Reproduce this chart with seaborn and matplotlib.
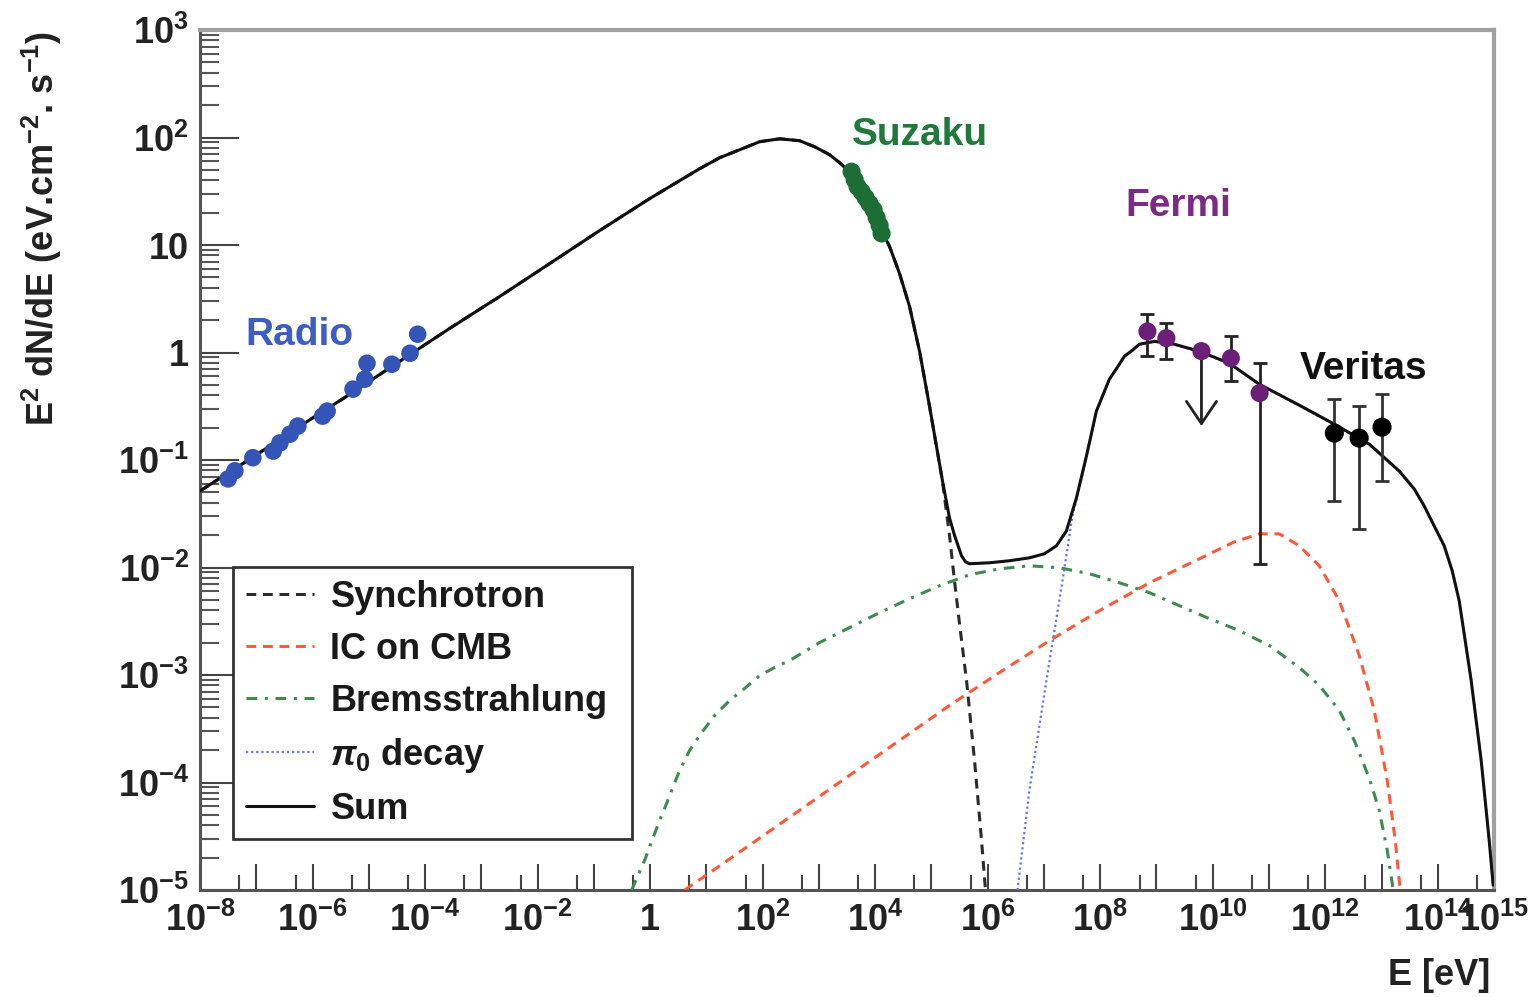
import numpy as np
import matplotlib
matplotlib.use("Agg")
import matplotlib.pyplot as plt
import seaborn as sns
from matplotlib.ticker import FixedLocator, FixedFormatter, LogLocator, NullFormatter

# ---------------- model curves (log10 E [eV], log10 E^2 dN/dE) ----------------
sum_logE = [-8.00, -7.112, -6.224, -5.336, -4.448, -3.560, -2.671, -1.783, -0.895, -0.007,
            0.881, 1.236, 1.591, 1.947, 2.302, 2.657, 2.924, 3.190, 3.368, 3.545, 3.812, 3.936,
            4.078, 4.256, 4.433, 4.611, 4.789, 4.966, 5.197, 5.321, 5.410, 5.535, 5.606, 5.677,
            6.032, 6.387, 6.742, 7.009, 7.222, 7.400, 7.577, 7.755, 7.932, 8.163, 8.305, 8.430,
            8.572, 8.696, 8.963, 9.318, 9.762, 10.295, 10.828, 11.538, 12.160, 12.782, 13.314,
            13.581, 13.758, 13.936, 14.114, 14.256, 14.380, 14.487, 14.593, 14.771, 14.913, 14.984]
sum_logF = [-1.288, -0.991, -0.685, -0.388, -0.081, 0.225, 0.522, 0.828, 1.135, 1.432,
            1.710, 1.812, 1.886, 1.961, 1.988, 1.970, 1.914, 1.840, 1.766, 1.682, 1.497, 1.348,
            1.172, 0.986, 0.735, 0.429, 0.012, -0.499, -1.195, -1.538, -1.700, -1.891, -1.947, -1.965,
            -1.956, -1.937, -1.910, -1.872, -1.798, -1.659, -1.353, -0.963, -0.545, -0.248, -0.137, -0.035,
            0.021, 0.077, 0.104, 0.077, 0.012, -0.100, -0.295, -0.490, -0.666, -0.852, -1.102,
            -1.269, -1.427, -1.613, -1.798, -2.030, -2.309, -2.680, -3.051, -3.794, -4.536, -4.954]

sync_logE = [-8.00, -7.112, -6.224, -5.336, -4.448, -3.560, -2.671, -1.783, -0.895, -0.007,
             0.881, 1.236, 1.591, 1.947, 2.302, 2.657, 2.924, 3.190, 3.368, 3.545, 3.812, 3.936,
             4.078, 4.256, 4.433, 4.611, 4.789, 4.966, 5.197, 5.321, 5.410, 5.499, 5.624, 5.766,
             5.890, 5.961]
sync_logF = [-1.288, -0.991, -0.685, -0.388, -0.081, 0.225, 0.522, 0.828, 1.135, 1.432,
             1.710, 1.812, 1.886, 1.961, 1.988, 1.970, 1.914, 1.840, 1.766, 1.682, 1.497, 1.348,
             1.172, 0.986, 0.735, 0.429, 0.012, -0.499, -1.200, -1.700, -2.123, -2.522, -3.051,
             -3.794, -4.536, -5.0]

ic_logE = [0.615, 1.769, 2.657, 3.545, 4.433, 5.321, 6.210, 7.098, 7.986, 8.874, 9.762,
           10.384, 10.828, 11.183, 11.538, 11.893, 12.249, 12.604, 12.870, 13.101, 13.243, 13.332]
ic_logF = [-5.0, -4.582, -4.258, -3.933, -3.608, -3.283, -2.977, -2.680, -2.401, -2.142, -1.919,
           -1.761, -1.687, -1.687, -1.798, -1.984, -2.309, -2.819, -3.329, -3.979, -4.536, -5.0]

brems_logE = [-0.327, -0.096, 0.170, 0.259, 0.526, 0.703, 0.881, 1.147, 1.414, 1.680, 1.947,
              2.213, 2.480, 3.012, 3.545, 4.078, 4.611, 5.144, 5.677, 6.210, 6.742, 7.275, 7.808,
              8.341, 8.874, 9.407, 9.940, 10.472, 11.005, 11.538, 11.893, 12.249, 12.515, 12.782,
              12.959, 13.101, 13.208]
brems_logF = [-5.0, -4.722, -4.350, -4.239, -3.886, -3.701, -3.561, -3.376, -3.237, -3.125, -3.005,
              -2.930, -2.865, -2.698, -2.559, -2.420, -2.290, -2.169, -2.067, -2.012, -1.984, -2.002,
              -2.058, -2.142, -2.234, -2.355, -2.476, -2.587, -2.726, -2.930, -3.097, -3.329, -3.608,
              -3.961, -4.258, -4.629, -5.0]

pi0_logE = [6.529, 6.742, 7.044, 7.329, 7.506, 7.666, 7.755, 7.932, 8.163, 8.305, 8.430, 8.572,
            8.696, 8.963, 9.318, 9.762, 10.295, 10.828, 11.538, 12.160, 12.782, 13.314, 13.581,
            13.758, 13.936, 14.114, 14.256, 14.380, 14.487, 14.593, 14.771, 14.913, 14.984]
pi0_logF = [-5.0, -4.072, -3.051, -2.123, -1.520, -1.176, -0.975, -0.550, -0.252, -0.140, -0.040,
            0.017, 0.072, 0.100, 0.073, 0.008, -0.105, -0.300, -0.495, -0.672, -0.858, -1.108,
            -1.275, -1.433, -1.619, -1.805, -2.036, -2.315, -2.686, -3.057, -3.800, -4.542, -4.960]

# ---------------- measurements ----------------
radio_E = [3.16e-8, 4.17e-8, 8.7e-8, 2.0e-7, 2.63e-7, 3.98e-7, 5.5e-7, 1.51e-6, 1.82e-6,
           5.25e-6, 8.5e-6, 9.3e-6, 2.57e-5, 5.4e-5, 7.4e-5]
radio_F = [0.0667, 0.0794, 0.105, 0.121, 0.144, 0.174, 0.207, 0.256, 0.285,
           0.456, 0.565, 0.794, 0.778, 0.984, 1.48]

suzaku_E = [3.81e3, 4.31e3, 4.86e3, 5.73e3, 6.75e3, 7.94e3, 9.37e3, 1.06e4, 1.20e4, 1.30e4]
suzaku_F = [48.1, 40.6, 34.9, 31.4, 27.6, 24.3, 21.3, 18.0, 15.2, 12.8]

fermi_E = [6.9e8, 1.5e9, 2.1e10, 6.8e10]
fermi_F = [1.57, 1.36, 0.885, 0.419]
fermi_lo = [0.92, 0.865, 0.54, 0.0108]
fermi_hi = [2.26, 1.87, 1.42, 0.794]
fermi_ul_E = [6.3e9]
fermi_ul_F = [1.03]
fermi_ul_to = [0.207]

veritas_E = [1.45e12, 4.0e12, 1.02e13]
veritas_F = [0.178, 0.160, 0.202]
veritas_lo = [0.0417, 0.0229, 0.0638]
veritas_hi = [0.368, 0.317, 0.410]

xtick_exp = list(range(-8, 16))
xlabel_exp = [-8, -6, -4, -2, 0, 2, 4, 6, 8, 10, 12, 14, 15]
ytick_exp = list(range(-5, 4))

# ---------------- style ----------------
sns.set_theme(style="white")
plt.rcParams['font.family'] = ['Liberation Sans', 'DejaVu Sans']
plt.rcParams['font.weight'] = 'bold'
plt.rcParams['mathtext.fontset'] = 'custom'
plt.rcParams['mathtext.rm'] = 'Liberation Sans:bold'
plt.rcParams['mathtext.it'] = 'Liberation Sans:bold:italic'
plt.rcParams['mathtext.bf'] = 'Liberation Sans:bold'
plt.rcParams['mathtext.sf'] = 'Liberation Sans:bold'

FS = 26
fig = plt.figure(figsize=(15.36, 9.97), dpi=100)
ax = fig.add_axes([0.1302, 0.1073, 0.8425, 0.8626])
ax.set_xscale('log')
ax.set_yscale('log')


def tolin(a):
    return 10.0 ** np.asarray(a, dtype=float)


sns.lineplot(x=tolin(sync_logE), y=tolin(sync_logF), ax=ax, color='#2b2b2b', lw=2.2,
             linestyle=(0, (3.2, 2.2)), sort=False, estimator=None, label='Synchrotron', zorder=3)
sns.lineplot(x=tolin(ic_logE), y=tolin(ic_logF), ax=ax, color='#ff5b3a', lw=2.2,
             linestyle=(0, (3.2, 2.2)), sort=False, estimator=None, label='IC on CMB', zorder=3)
sns.lineplot(x=tolin(brems_logE), y=tolin(brems_logF), ax=ax, color='#3f8a50', lw=2.2,
             linestyle=(0, (3.5, 2.5, 1.0, 2.5)), sort=False, estimator=None,
             label='Bremsstrahlung', zorder=3)
sns.lineplot(x=tolin(pi0_logE), y=tolin(pi0_logF), ax=ax, color='#6577e0', lw=1.6,
             linestyle=(0, (1.0, 1.3)), sort=False, estimator=None, label=r'$\pi_0$ decay', zorder=3)
sns.lineplot(x=tolin(sum_logE), y=tolin(sum_logF), ax=ax, color='#111111', lw=2.2,
             sort=False, estimator=None, label='Sum', zorder=4)

# data points
sns.scatterplot(x=radio_E, y=radio_F, ax=ax, color='#3454b8', s=160, edgecolor='none', zorder=5)
sns.scatterplot(x=suzaku_E, y=suzaku_F, ax=ax, color='#1c6e36', s=170, edgecolor='none', zorder=5)

f_F = np.array(fermi_F)
ax.errorbar(fermi_E, fermi_F, yerr=[f_F - np.array(fermi_lo), np.array(fermi_hi) - f_F],
            fmt='none', ecolor='#222222', elinewidth=2, capsize=5, capthick=2, zorder=5)
sns.scatterplot(x=fermi_E, y=fermi_F, ax=ax, color='#6b1f78', s=170, edgecolor='none', zorder=6)
sns.scatterplot(x=fermi_ul_E, y=fermi_ul_F, ax=ax, color='#6b1f78', s=170, edgecolor='none', zorder=6)
ax.annotate('', xy=(fermi_ul_E[0], fermi_ul_to[0]), xytext=(fermi_ul_E[0], fermi_ul_F[0]),
            arrowprops=dict(arrowstyle='->,head_width=0.27,head_length=0.4', lw=2,
                            color='#222222', mutation_scale=40, shrinkA=0, shrinkB=0), zorder=5)

v_F = np.array(veritas_F)
ax.errorbar(veritas_E, veritas_F, yerr=[v_F - np.array(veritas_lo), np.array(veritas_hi) - v_F],
            fmt='none', ecolor='#333333', elinewidth=2, capsize=5, capthick=2, zorder=5)
sns.scatterplot(x=veritas_E, y=veritas_F, ax=ax, color='#000000', s=190, edgecolor='none', zorder=6)

# labels on plot
ax.text(10 ** -7.2, 10 ** 0.16, 'Radio', color='#3d5cc4', fontsize=28, ha='left', va='center')
ax.text(10 ** 3.59, 10 ** 2.02, 'Suzaku', color='#1f7a3a', fontsize=28, ha='left', va='center')
ax.text(10 ** 8.45, 10 ** 1.36, 'Fermi', color='#7b2a86', fontsize=28, ha='left', va='center')
ax.text(10 ** 11.55, 10 ** -0.15, 'Veritas', color='#111111', fontsize=28, ha='left', va='center')

# axes limits & ticks
ax.set_xlim(1e-8, 1e15)
ax.set_ylim(1e-5, 1e3)

xt = [10.0 ** e for e in xtick_exp]
xl = []
for e in xtick_exp:
    if e in xlabel_exp:
        xl.append('1' if e == 0 else r'$10^{%d}$' % e)
    else:
        xl.append('')
ax.xaxis.set_major_locator(FixedLocator(xt))
ax.xaxis.set_major_formatter(FixedFormatter(xl))
ax.xaxis.set_minor_locator(FixedLocator([5 * 10.0 ** e for e in xtick_exp[:-1]]))
ax.xaxis.set_minor_formatter(NullFormatter())

yt = [10.0 ** e for e in ytick_exp]
yl = []
for e in ytick_exp:
    if e == 0:
        yl.append('1')
    elif e == 1:
        yl.append('10')
    else:
        yl.append(r'$10^{%d}$' % e)
ax.yaxis.set_major_locator(FixedLocator(yt))
ax.yaxis.set_major_formatter(FixedFormatter(yl))
ax.yaxis.set_minor_locator(LogLocator(base=10, subs=np.arange(2, 10), numticks=100))
ax.yaxis.set_minor_formatter(NullFormatter())

ax.tick_params(axis='x', which='major', direction='in', length=19, width=1.5, color='#444444',
               labelsize=FS, pad=9, top=False, bottom=True)
ax.tick_params(axis='x', which='minor', direction='in', length=11, width=1.5, color='#444444',
               top=False, bottom=True)
ax.tick_params(axis='y', which='major', direction='in', length=28, width=1.5, color='#444444',
               labelsize=FS, pad=8, left=True, right=False)
ax.tick_params(axis='y', which='minor', direction='in', length=14, width=1.5, color='#555555',
               left=True, right=False)
for lab in ax.get_xticklabels() + ax.get_yticklabels():
    lab.set_fontweight('bold')
    lab.set_color('#222222')

for side in ['left', 'bottom']:
    ax.spines[side].set_color('#555555')
    ax.spines[side].set_linewidth(2.2)
for side in ['top', 'right']:
    ax.spines[side].set_color('#a0a0a0')
    ax.spines[side].set_linewidth(3)

# legend
handles, labels = ax.get_legend_handles_labels()
leg = ax.legend(handles[:5], labels[:5], loc='upper left',
                bbox_to_anchor=(0.0255, 0.3756 - 0.314, 0.3083, 0.314), mode='expand',
                borderaxespad=0, fancybox=False, framealpha=1, edgecolor='#333333',
                fontsize=FS, handlelength=1.9, handletextpad=0.45, labelspacing=0.47,
                borderpad=0.35)
leg.get_frame().set_linewidth(2)
for t in leg.get_texts():
    t.set_color('#1a1a1a')

# axis titles
fig.text(42 / 1536, 1 - 228 / 997, r'E$^{2}$ dN/dE (eV.cm$^{-2}$. s$^{-1}$)', rotation=90,
         ha='center', va='center', fontsize=FS, color='#222222')
fig.text(1490 / 1536, 1 - 975 / 997, 'E [eV]', ha='right', va='center', fontsize=FS,
         color='#222222')

fig.savefig('out.png', dpi=100)
